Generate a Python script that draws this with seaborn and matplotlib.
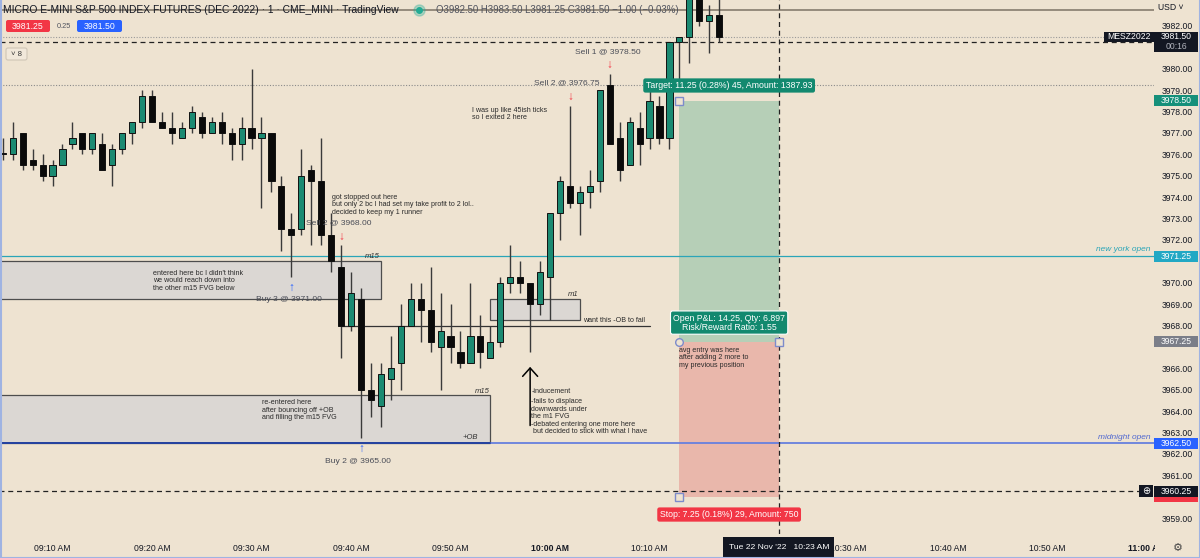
import numpy as np
import pandas as pd
import matplotlib
matplotlib.use("Agg")
import matplotlib.pyplot as plt
import matplotlib.transforms as mtransforms
from matplotlib.patches import Rectangle, FancyBboxPatch
from matplotlib.lines import Line2D
import seaborn as sns

# 1 minute MESZ2022 bars, 09:05 -> 10:17
first_minute = 5  # minutes after 09:00
opens = [3976.00, 3976.00, 3977.00, 3975.75, 3975.50, 3975.00, 3975.50, 3976.50, 3977.00, 3976.25,
         3976.50, 3975.50, 3976.25, 3977.00, 3977.50, 3978.75, 3977.50, 3977.25, 3976.75, 3977.25,
         3977.75, 3977.00, 3977.50, 3977.00, 3976.50, 3977.25, 3976.75, 3977.00, 3974.50, 3972.50,
         3972.50, 3975.25, 3974.75, 3972.25, 3970.75, 3968.00, 3969.25, 3965.00, 3964.25, 3965.50,
         3966.25, 3968.00, 3969.25, 3968.75, 3967.00, 3967.50, 3966.75, 3966.25, 3967.50, 3966.50,
         3967.25, 3970.00, 3970.25, 3970.00, 3969.00, 3970.25, 3973.25, 3974.50, 3973.75, 3974.25,
         3974.75, 3979.25, 3976.75, 3975.50, 3977.25, 3976.75, 3978.25, 3976.75, 3981.25, 3981.50,
         3983.75, 3982.25, 3982.50]
highs = [3976.75, 3977.50, 3977.00, 3976.25, 3976.00, 3975.75, 3976.50, 3977.50, 3977.00, 3977.00,
         3977.00, 3976.50, 3977.00, 3977.50, 3979.00, 3979.00, 3978.00, 3978.00, 3977.50, 3978.25,
         3978.00, 3977.75, 3978.00, 3977.25, 3977.75, 3980.00, 3977.75, 3977.00, 3975.00, 3973.25,
         3976.25, 3975.50, 3976.75, 3973.25, 3971.75, 3970.50, 3969.75, 3966.25, 3966.25, 3967.50,
         3969.00, 3970.00, 3970.00, 3970.75, 3969.50, 3969.00, 3967.75, 3970.00, 3968.50, 3968.00,
         3970.25, 3971.75, 3971.00, 3970.00, 3971.00, 3973.25, 3975.00, 3978.25, 3974.50, 3975.25,
         3979.00, 3979.75, 3977.50, 3977.75, 3978.00, 3979.00, 3978.75, 3981.25, 3981.50, 3984.25,
         3984.25, 3983.00, 3983.50]
lows = [3975.75, 3975.75, 3975.25, 3975.25, 3974.75, 3974.50, 3975.50, 3976.25, 3976.00, 3976.00,
        3975.25, 3974.50, 3976.00, 3976.50, 3977.25, 3977.50, 3977.25, 3976.50, 3976.75, 3977.00,
        3976.75, 3977.00, 3976.50, 3975.75, 3975.75, 3976.25, 3973.50, 3974.25, 3971.50, 3970.25,
        3972.25, 3971.75, 3971.75, 3970.50, 3966.50, 3967.75, 3962.75, 3963.75, 3963.25, 3964.50,
        3965.00, 3968.00, 3967.25, 3966.75, 3965.00, 3966.25, 3966.00, 3966.25, 3966.00, 3966.50,
        3967.00, 3969.50, 3969.50, 3966.75, 3968.50, 3968.25, 3972.00, 3973.50, 3972.25, 3973.50,
        3974.25, 3976.50, 3974.75, 3975.50, 3975.50, 3976.25, 3976.50, 3976.25, 3979.50, 3980.25,
        3982.00, 3980.75, 3981.25]
closes = [3976.00, 3976.75, 3975.50, 3975.50, 3975.00, 3975.50, 3976.25, 3976.75, 3976.25, 3977.00,
          3975.25, 3976.25, 3977.00, 3977.50, 3978.75, 3977.50, 3977.25, 3977.00, 3977.25, 3978.00,
          3977.00, 3977.50, 3977.00, 3976.50, 3977.25, 3976.75, 3977.00, 3974.75, 3972.50, 3972.25,
          3975.00, 3974.75, 3972.25, 3971.00, 3968.00, 3969.50, 3965.00, 3964.50, 3965.75, 3966.00,
          3968.00, 3969.25, 3968.75, 3967.25, 3967.75, 3967.00, 3966.25, 3967.50, 3966.75, 3967.25,
          3970.00, 3970.25, 3970.00, 3969.00, 3970.50, 3973.25, 3974.75, 3973.75, 3974.25, 3974.50,
          3979.00, 3976.50, 3975.25, 3977.50, 3976.50, 3978.50, 3976.75, 3981.25, 3981.50, 3983.75,
          3982.25, 3982.50, 3981.50]

# levels / drawings (prices, minutes after 09:00)
ny_open = 3971.25
midnight_open = 3962.50
m15_upper = (3969.25, 3971.00, 43)   # low, high, right edge
m15_lower = (3962.50, 3964.75, 54)
m1_box = (3968.25, 3969.25, 54, 63)
ob_line = (3968.00, 39, 70)
entry, target, stop = 3967.25, 3978.50, 3960.00
pos_start, pos_end = 73, 83
cross_time, cross_price = 83, 3960.25

tick_minutes = [10, 20, 30, 40, 50, 60, 70, 80, 90, 100, 110, 120]
tick_labels = ["09:10 AM", "09:20 AM", "09:30 AM", "09:40 AM", "09:50 AM", "10:00 AM",
               "10:10 AM", "", "10:30 AM", "10:40 AM", "10:50 AM", "11:00 AM"]
price_ticks = np.arange(3959, 3983)
hidden_prices = [3960, 3967, 3971, 3981]   # covered by the price tags

bg = "#EEE3D1"
green = "#1B8A72"
W, H = 1200, 558

sns.set_theme(style="white", rc={"axes.facecolor": bg, "figure.facecolor": bg})
plt.rcParams["font.family"] = ["Liberation Sans", "DejaVu Sans"]

bars = pd.DataFrame({"minute": first_minute + np.arange(len(opens)),
                     "open": opens, "high": highs, "low": lows, "close": closes})
bars["up"] = bars["close"] > bars["open"]
bars["bottom"] = bars[["open", "close"]].min(axis=1)
bars["size"] = (bars["close"] - bars["open"]).abs().clip(lower=0.05)

fig = plt.figure(figsize=(W / 100, H / 100), dpi=100)
ax = fig.add_axes([0, 1 - 534 / H, 1154 / W, 534 / H])
ax.set_xlim(4.72, 120.7)
ax.set_ylim(3958.26, 3983.215)
for s in ax.spines.values():
    s.set_visible(False)

P = mtransforms.Affine2D().scale(1 / W, -1 / H).translate(0, 1) + fig.transFigure
ybl = mtransforms.blended_transform_factory(ax.transAxes, ax.transData)
xbl = mtransforms.blended_transform_factory(ax.transData, ax.transAxes)

# boxes
box_fc, box_ec = "#DBD7D3", "#4D4D4D"
ax.add_patch(Rectangle((0, m15_upper[0]), m15_upper[2], m15_upper[1] - m15_upper[0],
                       fc=box_fc, ec=box_ec, lw=0.9, zorder=1))
ax.add_patch(Rectangle((0, m15_lower[0]), m15_lower[2], m15_lower[1] - m15_lower[0],
                       fc=box_fc, ec=box_ec, lw=0.9, zorder=1))
ax.add_patch(Rectangle((m1_box[2], m1_box[0]), m1_box[3] - m1_box[2], m1_box[1] - m1_box[0],
                       fc=box_fc, ec=box_ec, lw=0.9, zorder=1))

# position tool
ax.add_patch(Rectangle((pos_start, entry), pos_end - pos_start, target - entry, fc="#B6CFB7", ec="none", zorder=1))
ax.add_patch(Rectangle((pos_start, stop), pos_end - pos_start, entry - stop, fc="#E9B7AB", ec="none", zorder=1))

# horizontal lines
ax.axhline(3982.75, color="#8E8476", lw=1.3, zorder=2)
ax.axhline(3981.50, color="#9A9A9A", lw=0.8, ls=(0, (1, 1.5)), zorder=2)
ax.axhline(3981.25, color="#222222", lw=0.9, ls=(0, (4, 3)), zorder=2)
ax.axhline(3979.25, color="#8A8A8A", lw=0.8, ls=(0, (1, 1.5)), zorder=2)
ax.axhline(ny_open, color="#2AA5B8", lw=0.9, zorder=2)
ax.axhline(midnight_open, color="#6680DE", lw=1.3, zorder=2)
ax.plot([0, m15_lower[2]], [midnight_open, midnight_open], color="#1F3C99", lw=1.3, zorder=2)
ax.plot([ob_line[1], ob_line[2]], [ob_line[0], ob_line[0]], color="#333333", lw=0.9, zorder=2)
ax.plot([4.0, 119.2], [cross_price, cross_price], color="#222222", lw=0.9, ls=(0, (4, 3)), zorder=2)
ax.axvline(cross_time, color="#222222", lw=0.9, ls=(0, (4, 3)), zorder=2)

# candles
ax.vlines(bars["minute"], bars["low"], bars["high"], color="#3A3A3A", lw=1.0, zorder=3)
ax.bar(bars["minute"], bars["size"], bottom=bars["bottom"], width=0.62,
       color=np.where(bars["up"], green, "#0A0A0A"), edgecolor="#111111", lw=0.7, zorder=4)

# drawing labels
ax.text(120.3, ny_open + 0.12, "new york open", ha="right", va="bottom", style="italic", fontsize=6, color="#2AA5B8")
ax.text(120.3, midnight_open + 0.12, "midnight open", ha="right", va="bottom", style="italic", fontsize=6, color="#5068D0")
ax.text(42.9, 3971.22, "m15", ha="right", va="center", style="italic", fontsize=5.5, color="#333333")
ax.text(53.9, 3964.94, "m15", ha="right", va="center", style="italic", fontsize=5.5, color="#333333")
ax.text(52.8, 3962.78, "+OB", ha="right", va="center", style="italic", fontsize=5.5, color="#333333")
ax.text(62.9, 3969.46, "m1", ha="right", va="center", style="italic", fontsize=5.5, color="#333333")

note = dict(fontsize=5.1, color="#2A2A2A", ha="left", va="top", linespacing=1.1, zorder=6)
ax.text(38.1, 3974.15, "got stopped out here\nbut only 2 bc I had set my take profit to 2 lol..\ndecided to keep my 1 runner", **note)
ax.text(20.1, 3970.62, "entered here bc I didn't think\nwe would reach down into\nthe other m15 FVG below", **note)
ax.text(31.05, 3964.55, "re-entered here\nafter bouncing off +OB\nand filling the m15 FVG", **note)
ax.text(58.15, 3965.1, "-inducement", **note)
ax.text(58.1, 3964.6, "-fails to displace\ndownwards under\nthe m1 FVG", **note)
ax.text(58.1, 3963.55, "-debated entering one more here\n but decided to stick with what I have", **note)
ax.text(63.3, 3968.42, "want this -OB to fail", **note)
ax.text(52.2, 3978.22, "I was up like 45ish ticks\nso I exited 2 here", **note)
ax.text(73.0, 3967.0, "avg entry was here\nafter adding 2 more to\nmy previous position", **note)

trade = dict(fontsize=6.1, color="#4A4D57", ha="center", va="center", zorder=6)
ax.text(38.75, 3972.79, "Sell 2 @ 3968.00", **trade)
ax.text(33.8, 3969.2, "Buy 3 @ 3971.00", **trade)
ax.text(40.7, 3961.65, "Buy 2 @ 3965.00", **trade)
ax.text(61.7, 3979.34, "Sell 2 @ 3976.75", **trade)
ax.text(65.8, 3980.79, "Sell 1 @ 3978.50", **trade)
arrow = dict(fontsize=8.5, ha="center", va="center", zorder=6)
ax.text(39.0, 3972.14, "↓", color="#F23645", **arrow)
ax.text(62.0, 3978.68, "↓", color="#F23645", **arrow)
ax.text(66.0, 3980.18, "↓", color="#F23645", **arrow)
ax.text(34.0, 3969.76, "↑", color="#2962FF", **arrow)
ax.text(41.0, 3962.23, "↑", color="#2962FF", **arrow)
ax.annotate("", xy=(58.0, 3966.2), xytext=(58.0, 3963.2),
            arrowprops=dict(arrowstyle="->,head_length=0.5,head_width=0.45", color="black", lw=1.1), zorder=6)

# position labels and handles
mid = (pos_start + pos_end) / 2
ax.text(mid, 3979.22, "Target: 11.25 (0.28%) 45, Amount: 1387.93", ha="center", va="center", fontsize=6.3,
        color="white", zorder=8, bbox=dict(boxstyle="round,pad=0.3,rounding_size=0.25", fc="#12896F", ec="none"))
ax.text(mid, 3968.14, "Open P&L: 14.25, Qty: 6.897\nRisk/Reward Ratio: 1.55", ha="center", va="center",
        fontsize=6.3, linespacing=1.0, color="white", zorder=8,
        bbox=dict(boxstyle="round,pad=0.3,rounding_size=0.25", fc="#12896F", ec="white", lw=0.8))
ax.text(mid, 3959.17, "Stop: 7.25 (0.18%) 29, Amount: 750", ha="center", va="center", fontsize=6.3,
        color="white", zorder=8, bbox=dict(boxstyle="round,pad=0.3,rounding_size=0.25", fc="#F23645", ec="none"))
handle = dict(ms=5.5, mfc=bg, mec="#7D8BCB", mew=1.0, zorder=9, ls="none")
ax.plot([pos_start], [target], marker="s", **handle)
ax.plot([pos_start], [entry], marker="o", **handle)
ax.plot([pos_end], [entry], marker="s", **handle)
ax.plot([pos_start], [stop], marker="s", **handle)

# axes ticks
ax.set_yticks(price_ticks)
ax.set_yticklabels(["" if v in hidden_prices else f"{v:.2f}" for v in price_ticks])
ax.yaxis.tick_right()
ax.tick_params(axis="y", length=0, pad=5.5, labelsize=6.2, labelcolor="#131722")
ax.set_xticks(tick_minutes)
ax.set_xticklabels(tick_labels)
ax.tick_params(axis="x", length=0, pad=7.5, labelsize=6.2, labelcolor="#131722")
for lab, m in zip(ax.get_xticklabels(), tick_minutes):
    if m % 60 == 0:
        lab.set_fontweight("bold")
ax.grid(False)

# price scale tags (later ones sit on top)
tag_z = [10]

def axis_tag(price, label, fc, h=11):
    hh = h / 21.4
    z = tag_z[0]
    ax.add_patch(Rectangle((1.0, price - hh / 2), 44 / 1154, hh, transform=ybl, fc=fc, ec="none",
                           clip_on=False, zorder=z))
    ax.text(1176 / 1154, price, label, transform=ybl, ha="center", va="center", fontsize=6.2,
            color="white", zorder=z + 0.5, clip_on=False)
    tag_z[0] += 1

axis_tag(target, "3978.50", "#15907A")
axis_tag(ny_open, "3971.25", "#22A8C4")
axis_tag(entry, "3967.25", "#7B7E88")
axis_tag(midnight_open, "3962.50", "#2962FF")
axis_tag(stop, "", "#F23645")
axis_tag(cross_price, "3960.25", "#131722")
ax.add_patch(Rectangle((1.0, 3980.78), 44 / 1154, 0.94, transform=ybl, fc="#131722", ec="none",
                       clip_on=False, zorder=20))
ax.text(1176 / 1154, 3981.5, "3981.50", transform=ybl, ha="center", va="center", fontsize=6.2, color="white", zorder=21)
ax.text(1176 / 1154, 3981.03, "00:16", transform=ybl, ha="center", va="center", fontsize=6.2, color="#B2B5BE", zorder=21)
ax.add_patch(Rectangle((1104 / 1154, 3981.23), 50 / 1154, 0.51, transform=ybl, fc="#131722", ec="none", zorder=20))
ax.text(1129 / 1154, 3981.49, "MESZ2022", transform=ybl, ha="center", va="center", fontsize=6.2, color="white", zorder=21)
ax.add_patch(Rectangle((1139 / 1154, cross_price - 0.28), 14 / 1154, 0.56, transform=ybl, fc="#131722", ec="none", zorder=20))
ax.text(1146 / 1154, cross_price, "⊕", transform=ybl, ha="center", va="center", fontsize=7, color="white",
        zorder=21, family=["DejaVu Sans"])

# crosshair time label
ax.add_patch(Rectangle((cross_time - 5.58, -24 / 534), 11.16, 21 / 534, transform=xbl, fc="#131722", ec="none",
                       clip_on=False, zorder=20))
ax.text(cross_time, -13.5 / 534, "Tue 22 Nov '22   10:23 AM", transform=xbl, ha="center", va="center",
        fontsize=6.1, color="white", zorder=21, clip_on=False)

# header
fig.text(3, 10, "MICRO E-MINI S&P 500 INDEX FUTURES (DEC 2022) · 1 · CME_MINI · TradingView", transform=P,
         ha="left", va="center", fontsize=7.4, color="#131722")
fig.add_artist(Line2D([419], [10], marker="o", ms=8, color="#22AB94", alpha=0.3, transform=P))
fig.add_artist(Line2D([419], [10], marker="o", ms=4, color="#22AB94", transform=P))
fig.text(436, 10, "O3982.50 H3983.50 L3981.25 C3981.50 −1.00 (−0.03%)", transform=P, ha="left", va="center",
         fontsize=6.9, color="#50535E")
fig.add_artist(FancyBboxPatch((6, 20), 44, 12, boxstyle="round,pad=0,rounding_size=2", transform=P,
                              fc="#F23645", ec="none"))
fig.text(28, 26.5, "3981.25", transform=P, ha="center", va="center", fontsize=6.3, color="white")
fig.text(63.5, 26.5, "0.25", transform=P, ha="center", va="center", fontsize=5.3, color="#50535E")
fig.add_artist(FancyBboxPatch((77, 20), 45, 12, boxstyle="round,pad=0,rounding_size=2", transform=P,
                              fc="#2962FF", ec="none"))
fig.text(99.5, 26.5, "3981.50", transform=P, ha="center", va="center", fontsize=6.3, color="white")
fig.add_artist(FancyBboxPatch((6, 48), 21, 12, boxstyle="round,pad=0,rounding_size=2", transform=P,
                              fc="#F1E8DA", ec="#CFC5B6", lw=0.8))
fig.text(16.5, 54.5, "˅ 8", transform=P, ha="center", va="center", fontsize=5.6, color="#333333")
fig.text(1171, 7, "USD ˅", transform=P, ha="center", va="center", fontsize=6.2, color="#131722")

# bottom right corner
fig.add_artist(Rectangle((1155, 536), 45, 21, transform=P, fc=bg, ec="none", zorder=5))
fig.text(1178, 548, "⚙", transform=P, ha="center", va="center", fontsize=8, color="#444444",
         family=["DejaVu Sans"], zorder=6)

# screenshot frame
for xs, ys in [([0.5, 0.5], [0, 558]), ([0, 1200], [557.5, 557.5]), ([1199.5, 1199.5], [0, 558])]:
    fig.add_artist(Line2D(xs, ys, color="#9FB3E2", lw=1.5, transform=P, zorder=7))

fig.savefig("out.png", dpi=100, facecolor=bg)
